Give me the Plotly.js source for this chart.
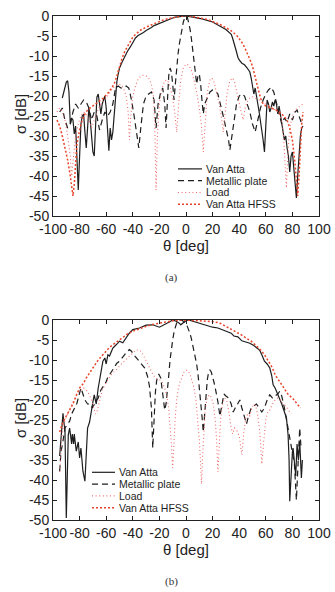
<!DOCTYPE html>
<html>
<head>
<meta charset="utf-8">
<script src="https://cdn.plot.ly/plotly-3.0.1.min.js"></script>
<style>
  html, body { margin: 0; padding: 0; background: #fff; }
  #chart { width: 335px; height: 592px; }
</style>
</head>
<body>
<div id="chart"></div>
<script>
// Monostatic RCS patterns: theta [deg] vs sigma [dB], pairs of [theta, sigma]

// ---- panel (a) ----
const vanAttaA = [
  [-93,-20.5],[-92,-19],[-91,-17.5],[-90,-16.5],[-89,-16.2],[-88,-19],[-87,-27],[-86,-25.5],[-85,-26],
  [-84,-29.5],[-83,-27.5],[-82,-38],[-81,-43.5],[-80,-35],[-79,-27],[-78,-25],[-77,-24.5],[-76,-29],
  [-75,-33],[-74,-28],[-73,-22.8],[-72,-26],[-71,-30],[-70,-34],[-69,-35],[-68,-25],[-67,-20.3],
  [-66,-19.5],[-65,-21.5],[-64,-24.5],[-63,-22],[-62,-21],[-61,-20],[-60,-23],[-59,-28.7],[-58,-33.7],
  [-57,-28],[-56,-31],[-55,-29],[-54,-24.5],[-53,-19],[-52,-16.5],[-51,-14.5],[-50,-13],[-48,-11.5],
  [-46,-10],[-44,-8.8],[-42,-7.8],[-40,-6.6],[-38,-5.5],[-36,-4.9],[-34,-4.6],[-32,-4.1],[-30,-3.6],
  [-28,-3.3],[-26,-2.9],[-24,-2.4],[-22,-2.1],[-20,-1.9],[-18,-1.5],[-16,-1.2],[-14,-0.9],[-12,-0.7],
  [-10,-0.5],[-8,-0.3],[-6,-0.2],[-4,-0.1],[-2,0],[0,0],[2,-0.1],[4,-0.2],[6,-0.3],[8,-0.4],[10,-0.5],
  [12,-0.7],[14,-0.9],[16,-1.1],[18,-1.3],[20,-1.5],[22,-1.9],[24,-2.2],[26,-2.6],[28,-3.0],[30,-3.4],
  [32,-4.0],[34,-4.6],[35,-5.5],[36,-6.5],[37,-8],[38,-9],[39,-10.3],[40,-11],[42,-11.8],[44,-12.2],
  [46,-13],[48,-14],[49,-15.5],[50,-17.5],[51,-19.5],[52,-18],[53,-20.5],[54,-22],[55,-24],[56,-26],
  [57,-28.5],[58,-31],[59,-34],[60,-25],[61,-21],[62,-22],[63,-24],[64,-23],[65,-21.5],[66,-22.5],
  [67,-21],[68,-22],[69,-24.5],[70,-22.5],[71,-25],[72,-27],[73,-29],[74,-31],[75,-30],[76,-33],
  [77,-35],[78,-39],[79,-35],[80,-34],[81,-38],[82,-42],[83,-45.5],[84,-40],[85,-35],[86,-30],
  [87,-28],[88,-27.5]
];
const plateA = [
  [-95,-24],[-93,-23],[-91,-26],[-89,-28],[-87,-27],[-85,-24],[-83,-22],[-81,-23],[-79,-22],[-77,-21],
  [-75,-21.5],[-73,-23],[-71,-26],[-69,-24],[-67,-25],[-65,-28.5],[-63,-26],[-61,-24],[-59,-25],
  [-57,-24],[-55,-22],[-53,-18],[-51,-17.5],[-49,-18],[-47,-18],[-45,-17.5],[-43,-18],[-41,-21],
  [-39,-25],[-37,-29],[-35.5,-33],[-34,-28],[-32,-22],[-30,-20],[-28,-19.5],[-26,-19],[-24,-21],
  [-22.5,-28],[-21,-22],[-19,-19],[-17.5,-18],[-16,-22],[-15,-28],[-14,-20],[-13,-15],[-12,-13],
  [-11,-14],[-10,-17],[-9,-21],[-8,-17],[-7,-12.5],[-6,-9.5],[-5,-7],[-4,-5],[-3,-3],[-2,-1.5],
  [-1,-0.5],[0,-0.1],[1,-0.3],[2,-1.5],[3,-3.2],[4,-5.5],[5,-8],[6,-11],[7,-14],[8,-17],[9,-15],
  [10,-14.5],[11,-17],[12,-21],[13,-24.5],[14,-22],[16,-20.5],[18,-19],[20,-18.5],[22,-18.7],
  [24,-19.5],[26,-22],[28,-25],[30,-28],[32,-31],[33,-33.5],[34,-31],[36,-26],[38,-22],[40,-20],
  [42,-19.5],[44,-20],[46,-22],[48,-24],[50,-27],[52,-29],[54,-26],[56,-23],[58,-21],[60,-19.5],
  [62,-18.5],[64,-17.8],[66,-19],[68,-21.5],[70,-24],[72,-27],[74,-25.5],[76,-26.5],[78,-24.5],
  [80,-26],[82,-24],[83.5,-23.5],[85,-25],[87,-27]
];
const loadA = [
  [-97,-24],[-95,-23],[-93,-24],[-91,-26],[-89,-30],[-87,-35],[-86,-40],[-85,-36],[-83,-30],[-81,-27],
  [-79,-25],[-77,-24],[-75,-24.5],[-73,-26],[-71,-28],[-69,-26],[-67,-24],[-65,-22.5],[-63,-21.5],
  [-61,-21],[-59,-20],[-57,-19],[-55,-18],[-53,-17.5],[-51,-17],[-49,-17.2],[-47,-18],[-45,-20],
  [-43.5,-24],[-42.5,-31],[-41.5,-25],[-40,-20],[-38,-17.5],[-36,-15.8],[-34,-15],[-32,-14.8],
  [-30,-15],[-28,-15.5],[-26,-17],[-24.5,-20],[-23.5,-27],[-22.5,-43.5],[-21.5,-30],[-20,-22],
  [-18,-18],[-16,-16.2],[-14,-16],[-12,-17.5],[-10,-20.5],[-8.5,-24],[-7,-29],[-5.5,-22],[-4,-16],
  [-2,-13],[0,-12],[2,-12.3],[4,-13.5],[6,-16],[8,-19],[10,-23],[11.5,-27],[13,-34],[14.5,-26],
  [16,-19],[18,-16],[19.5,-15.5],[21,-16.5],[23,-19],[25,-22],[26.5,-25],[28,-29],[29.5,-24],
  [31,-19],[33,-16.2],[35,-15.5],[36.5,-16.5],[38,-19],[40,-21.5],[41.5,-24],[43,-26],[44.5,-23],
  [46,-21.5],[48,-20.5],[50,-20.2],[52,-20.5],[55,-21],[57,-21.5],[59,-22],[61,-22.3],[63,-22.5],
  [65,-23],[67,-23.5],[69,-24],[71,-25],[72.5,-27],[73.5,-31],[74.5,-38],[75.5,-43],[76.5,-35],
  [78,-28],[80,-25],[82,-23.5],[84,-23],[86,-22.5],[88,-22]
];
const hfssA = [
  [-97,-26],[-95,-27.5],[-93,-30],[-91,-33],[-89,-36],[-87,-40],[-85,-45],[-84,-42],[-83,-36],
  [-82,-32],[-80,-28.5],[-78,-26],[-76,-24.5],[-74,-23.5],[-72,-23],[-70,-22.5],[-66,-21.5],
  [-62,-20.5],[-58,-19],[-56,-18],[-54,-17],[-52,-15],[-50,-12.5],[-48,-10.5],[-46,-8.8],[-44,-7.5],
  [-42,-6.3],[-40,-5.3],[-38,-4.6],[-36,-4],[-34,-3.5],[-30,-2.8],[-26,-2.2],[-22,-1.6],[-18,-1.1],
  [-14,-0.7],[-10,-0.4],[-6,-0.2],[-2,0],[2,0],[6,-0.2],[10,-0.4],[14,-0.7],[18,-1.1],[22,-1.6],
  [26,-2.2],[30,-2.9],[34,-3.7],[38,-4.8],[40,-5.6],[42,-6.6],[44,-7.8],[46,-9.2],[48,-10.8],
  [50,-12.6],[52,-15],[54,-18],[56,-20.5],[58,-22],[60,-22.5],[64,-23],[68,-23.5],[72,-24.5],
  [76,-26],[78,-28],[80,-31],[82,-37],[84,-45],[85,-40],[86,-33],[87,-27],[88,-24]
];

// ---- panel (b) ----
const vanAttaB = [
  [-95,-34],[-94,-30],[-93,-26],[-92.5,-23.3],[-92,-25],[-91,-27.5],[-90,-49.5],[-89,-36],[-88.5,-28.7],
  [-87.5,-27],[-86,-31],[-85.5,-28.5],[-84.5,-31],[-84,-28.5],[-82.5,-32.8],[-81,-30.5],[-80,-34.5],
  [-79,-32],[-77.5,-37.8],[-76,-40.3],[-75,-33],[-74,-27],[-72.5,-25.5],[-71,-22],[-70,-20.5],
  [-69,-18.7],[-67.5,-21],[-66,-17],[-65,-15.3],[-64,-13.7],[-62.5,-10.3],[-61,-9.5],[-60,-11],
  [-58.75,-8.7],[-57.5,-9],[-56,-7.8],[-55,-7],[-52.5,-6.2],[-50,-5.3],[-47.5,-5.7],[-45,-4.5],
  [-42.5,-3.25],[-40,-2.4],[-35,-2],[-30,-1.3],[-25,-1.2],[-20,-1.8],[-16,-1.2],[-12.5,-0.5],
  [-10,0],[-7.5,-0.3],[-5,-0.8],[-4,-1.2],[-2.5,-0.8],[0,-0.2],[2,0],[5,-0.3],[9,-0.75],[13,-1.1],
  [17,-1.6],[20,-1.8],[24,-2],[28,-2.5],[31,-2.8],[34,-3.3],[36,-4],[39,-4.2],[42,-5.2],[45,-5.5],
  [48,-5.8],[51,-6.4],[53,-7],[55.5,-7.6],[57,-8.7],[59,-10.3],[61,-11],[63,-12],[64.5,-14],
  [65.5,-16.2],[67,-17],[68,-17.8],[70.5,-19.5],[72,-21],[73,-22],[75.5,-24.5],[76.75,-28.7],
  [77.5,-35],[78,-45.3],[79,-38],[80,-33],[80.5,-32],[81.5,-36],[82.5,-39],[83.5,-31],[84.5,-35],
  [85.5,-30.3],[86.75,-39.5],[87.5,-35]
];
const plateB = [
  [-95,-37.8],[-94,-33],[-92.5,-30.3],[-91,-27],[-89,-26],[-87.5,-25.3],[-86,-23.5],[-84,-22],
  [-82,-20.8],[-81,-19.5],[-79,-17],[-77.5,-18.5],[-76,-20],[-74,-21],[-72,-21],[-70.5,-22],[-69,-21],
  [-67,-20],[-66,-19.5],[-64,-17.5],[-62,-16.5],[-61,-16.2],[-59,-14.5],[-57,-13.5],[-55,-12.2],
  [-53.75,-11.6],[-52,-10.8],[-50,-10.3],[-48,-9.4],[-46,-8.7],[-44,-7.8],[-42.5,-7.4],[-41,-7.8],
  [-39,-8.8],[-37,-9.6],[-35,-10.5],[-33,-11.2],[-31,-12],[-29,-14],[-27.5,-16.5],[-26,-22],[-25,-32],
  [-24,-25],[-23,-18],[-22,-15],[-20.5,-13.5],[-19,-14.5],[-18,-17],[-17,-20.5],[-16,-22.5],[-15,-21],
  [-14,-18],[-13,-14],[-12,-10],[-11,-7],[-10,-5],[-9,-3],[-8,-1.6],[-7,-0.7],[-6,-0.2],[-5,0],
  [-4,-0.1],[-3,-0.1],[-2,-0.3],[-1,-0.6],[0,-1.0],[1,-1.6],[2,-2.4],[3,-3.4],[4,-4.6],[5,-6],
  [6,-7.5],[7,-9],[8,-11],[9,-13.5],[10,-16.5],[11,-20],[12,-24],[13,-28],[14,-23],[15,-18],[16,-15],
  [17,-13],[18,-12.5],[19,-13],[20,-14],[21,-15.5],[22,-17],[23,-18.5],[24,-20.5],[25.5,-24],[27,-21],
  [28.5,-18.5],[30,-19],[32,-19.5],[34,-21],[35.5,-23],[37,-22],[39,-21],[40.5,-20],[42,-22],
  [43.5,-24],[45.5,-26],[47,-24],[49,-22],[51,-21.5],[53,-21],[55,-22],[57,-23],[59,-22],[61,-20],
  [63,-18.7],[65,-19.5],[67,-19],[69,-18.5],[70.5,-17.8],[72,-19],[74,-22],[76,-26],[78,-30],
  [80,-33],[81.5,-36],[83,-45],[84,-38],[85.5,-27],[86.5,-32]
];
const loadB = [
  [-95,-38],[-94,-32],[-93,-28],[-91,-25],[-89,-23.5],[-87,-22],[-85,-20.5],[-83,-19],[-81,-18],
  [-79,-17.5],[-77,-17],[-75,-17.5],[-73,-18.5],[-71,-20],[-69.5,-22],[-68,-23.5],[-67,-23],[-65,-20],
  [-63,-17.5],[-61,-16.2],[-59,-15],[-57,-14],[-55,-13.2],[-52.5,-12.5],[-50,-11.5],[-47,-10.5],
  [-45,-9.8],[-42,-8.7],[-40,-8.2],[-37.5,-7.5],[-35,-7.5],[-33,-8.2],[-31,-9.5],[-29,-11],[-27,-12.5],
  [-25,-13.5],[-23,-14.5],[-21,-15],[-19.5,-15],[-18,-15.5],[-16,-17],[-14.5,-19],[-13,-22],[-12,-26],
  [-11,-31],[-10,-37],[-9,-30],[-8,-24],[-7,-20],[-6,-17.5],[-4.5,-15.5],[-3,-14],[-1.5,-13],[0,-12.5],
  [1.5,-12.7],[3,-13.5],[4.5,-15],[6,-17],[7.5,-20],[9,-25],[10,-30],[11,-36],[11.7,-41],[12.5,-34],
  [13.5,-27],[14.5,-22],[16,-19.5],[17.5,-18.7],[19,-19.3],[20.5,-21],[22,-25],[23,-30],[24,-38],
  [25,-31],[26,-25],[27.5,-21],[29,-19.5],[30.5,-20],[32,-22.5],[33.5,-26],[35,-28.5],[36.5,-27],
  [38,-27.5],[40,-29],[42,-33.7],[43.5,-28],[45,-24.5],[46.5,-23.5],[48,-24],[49.5,-22],[51,-21],
  [52.5,-21.5],[54,-24],[55.5,-28],[57,-36],[58.5,-30],[60,-25],[61.5,-23],[63,-22.5],[65,-21],
  [67,-20],[69,-19.5],[71,-20],[73,-21],[75,-21.5],[77,-22.5],[79,-23.5]
];
const hfssB = [
  [-95,-28],[-92.5,-25.5],[-90,-24],[-87.5,-22.5],[-85,-21],[-82,-18.5],[-80,-17],[-77,-15.8],
  [-75,-14.5],[-72,-13],[-70,-12],[-66,-10],[-62.5,-8.7],[-58,-7],[-55,-6.2],[-50,-5],[-47.5,-4.5],
  [-44,-3.5],[-40,-2.8],[-35,-2.1],[-30,-1.6],[-25,-1.1],[-20,-0.75],[-15,-0.4],[-10,-0.2],[-5,0],
  [0,0],[5,-0.1],[10,-0.2],[15,-0.3],[20,-0.4],[25,-0.7],[30,-1.6],[34,-2.2],[37,-2.8],[41,-3.6],
  [45,-4.5],[49,-5.3],[53,-6.5],[57,-7.8],[60,-9.2],[62,-10.3],[65,-12],[67,-13.7],[70,-15.2],
  [72,-16.2],[75,-17.7],[77,-18.7],[80,-19.5],[82,-20.3],[84,-21.2],[86,-22]
];

const seriesNames = ['Van Atta', 'Metallic plate', 'Load', 'Van Atta HFSS'];
const panelLabels = ['(a)', '(b)'];
const thetaTicks = [-100, -80, -60, -40, -20, 0, 20, 40, 60, 80, 100];
const sigmaTicks = [-50, -45, -40, -35, -30, -25, -20, -15, -10, -5, 0];

// ---- styling ----
const W = 335, H = 592;
const px = v => v / W;            // horizontal pixel -> paper fraction
const py = v => 1 - v / H;        // vertical pixel -> paper fraction

const styles = [
  { color: '#1e1e1e', width: 1.2, dash: 'solid' },
  { color: '#1e1e1e', width: 1.2, dash: '6px,4px' },
  { color: '#f26d6d', width: 1.1, dash: '1px,2.6px' },
  { color: '#e8442a', width: 1.5, dash: '2px,2px' }
];

const LEGEND_ROW = 11.8;
const panels = [
  { data: [vanAttaA, plateA, loadA, hfssA], xa: 'x', ya: 'y', top: 16, bottom: 216,
    legend: { x0: 178, x1: 202, mid: 186.6 }, label: { x: 171, y: 277 } },
  { data: [vanAttaB, plateB, loadB, hfssB], xa: 'x2', ya: 'y2', top: 320, bottom: 520,
    legend: { x0: 92, x1: 115, mid: 490 }, label: { x: 171, y: 581 } }
];

const traces = [];
const shapes = [];
const annotations = [];
const textFamily = 'Liberation Sans, Arial, sans-serif';

panels.forEach((p, pi) => {
  p.data.forEach((pairs, si) => {
    traces.push({
      type: 'scatter', mode: 'lines',
      name: seriesNames[si],
      x: pairs.map(d => d[0]),
      y: pairs.map(d => d[1]),
      xaxis: p.xa, yaxis: p.ya,
      line: { color: styles[si].color, width: styles[si].width, dash: styles[si].dash },
      showlegend: false,
      hoverinfo: 'skip'
    });
    // legend row: line sample + label
    const ry = p.legend.mid + (si - 1.5) * LEGEND_ROW;
    shapes.push({
      type: 'line', xref: 'paper', yref: 'paper',
      x0: px(p.legend.x0), x1: px(p.legend.x1), y0: py(ry), y1: py(ry),
      line: { color: styles[si].color, width: styles[si].width, dash: styles[si].dash }
    });
    annotations.push({
      xref: 'paper', yref: 'paper', x: px(p.legend.x1 + 1.5), y: py(ry),
      xanchor: 'left', yanchor: 'middle', showarrow: false,
      text: seriesNames[si],
      font: { family: textFamily, size: 10.5, color: '#1e1e1e' }
    });
  });
  // panel caption
  annotations.push({
    xref: 'paper', yref: 'paper', x: px(p.label.x), y: py(p.label.y),
    xanchor: 'center', yanchor: 'middle', showarrow: false,
    text: panelLabels[pi],
    font: { family: 'Liberation Serif, Times New Roman, serif', size: 11, color: '#333' }
  });
  // sigma axis title
  annotations.push({
    xref: 'paper', yref: 'paper', x: px(21), y: py((p.top + p.bottom) / 2 - 2),
    xanchor: 'center', yanchor: 'middle', showarrow: false, textangle: -90,
    text: 'σ [dB]',
    font: { family: textFamily, size: 15, color: '#222' }
  });
});

const tickFont = { family: textFamily, size: 14, color: '#222' };
const titleFont = { family: textFamily, size: 15, color: '#222' };

function xAxis(anchor) {
  return {
    domain: [px(53), px(319)], anchor: anchor, range: [-100, 100],
    tickmode: 'array', tickvals: thetaTicks, ticktext: thetaTicks.map(String), tickangle: 0,
    ticks: 'inside', ticklen: 4, tickwidth: 1, tickcolor: '#222',
    showline: true, linecolor: '#222', linewidth: 1, mirror: 'ticks',
    showgrid: false, zeroline: false, tickfont: tickFont,
    title: { text: 'θ [deg]', font: titleFont, standoff: 1 }
  };
}
function yAxis(anchor, top, bottom) {
  return {
    domain: [py(bottom), py(top)], anchor: anchor, range: [-50, 0],
    tickmode: 'array', tickvals: sigmaTicks, ticktext: sigmaTicks.map(String),
    ticks: 'inside', ticklen: 4, tickwidth: 1, tickcolor: '#222',
    showline: true, linecolor: '#222', linewidth: 1, mirror: 'ticks',
    showgrid: false, zeroline: false, tickfont: tickFont
  };
}

const layout = {
  width: W, height: H,
  margin: { l: 0, r: 0, t: 0, b: 0 },
  paper_bgcolor: '#fff', plot_bgcolor: '#fff',
  showlegend: false,
  xaxis: xAxis('y'), yaxis: yAxis('x', panels[0].top, panels[0].bottom),
  xaxis2: xAxis('y2'), yaxis2: yAxis('x2', panels[1].top, panels[1].bottom),
  shapes: shapes,
  annotations: annotations
};

Plotly.newPlot('chart', traces, layout, { staticPlot: true, displayModeBar: false });
</script>
</body>
</html>
